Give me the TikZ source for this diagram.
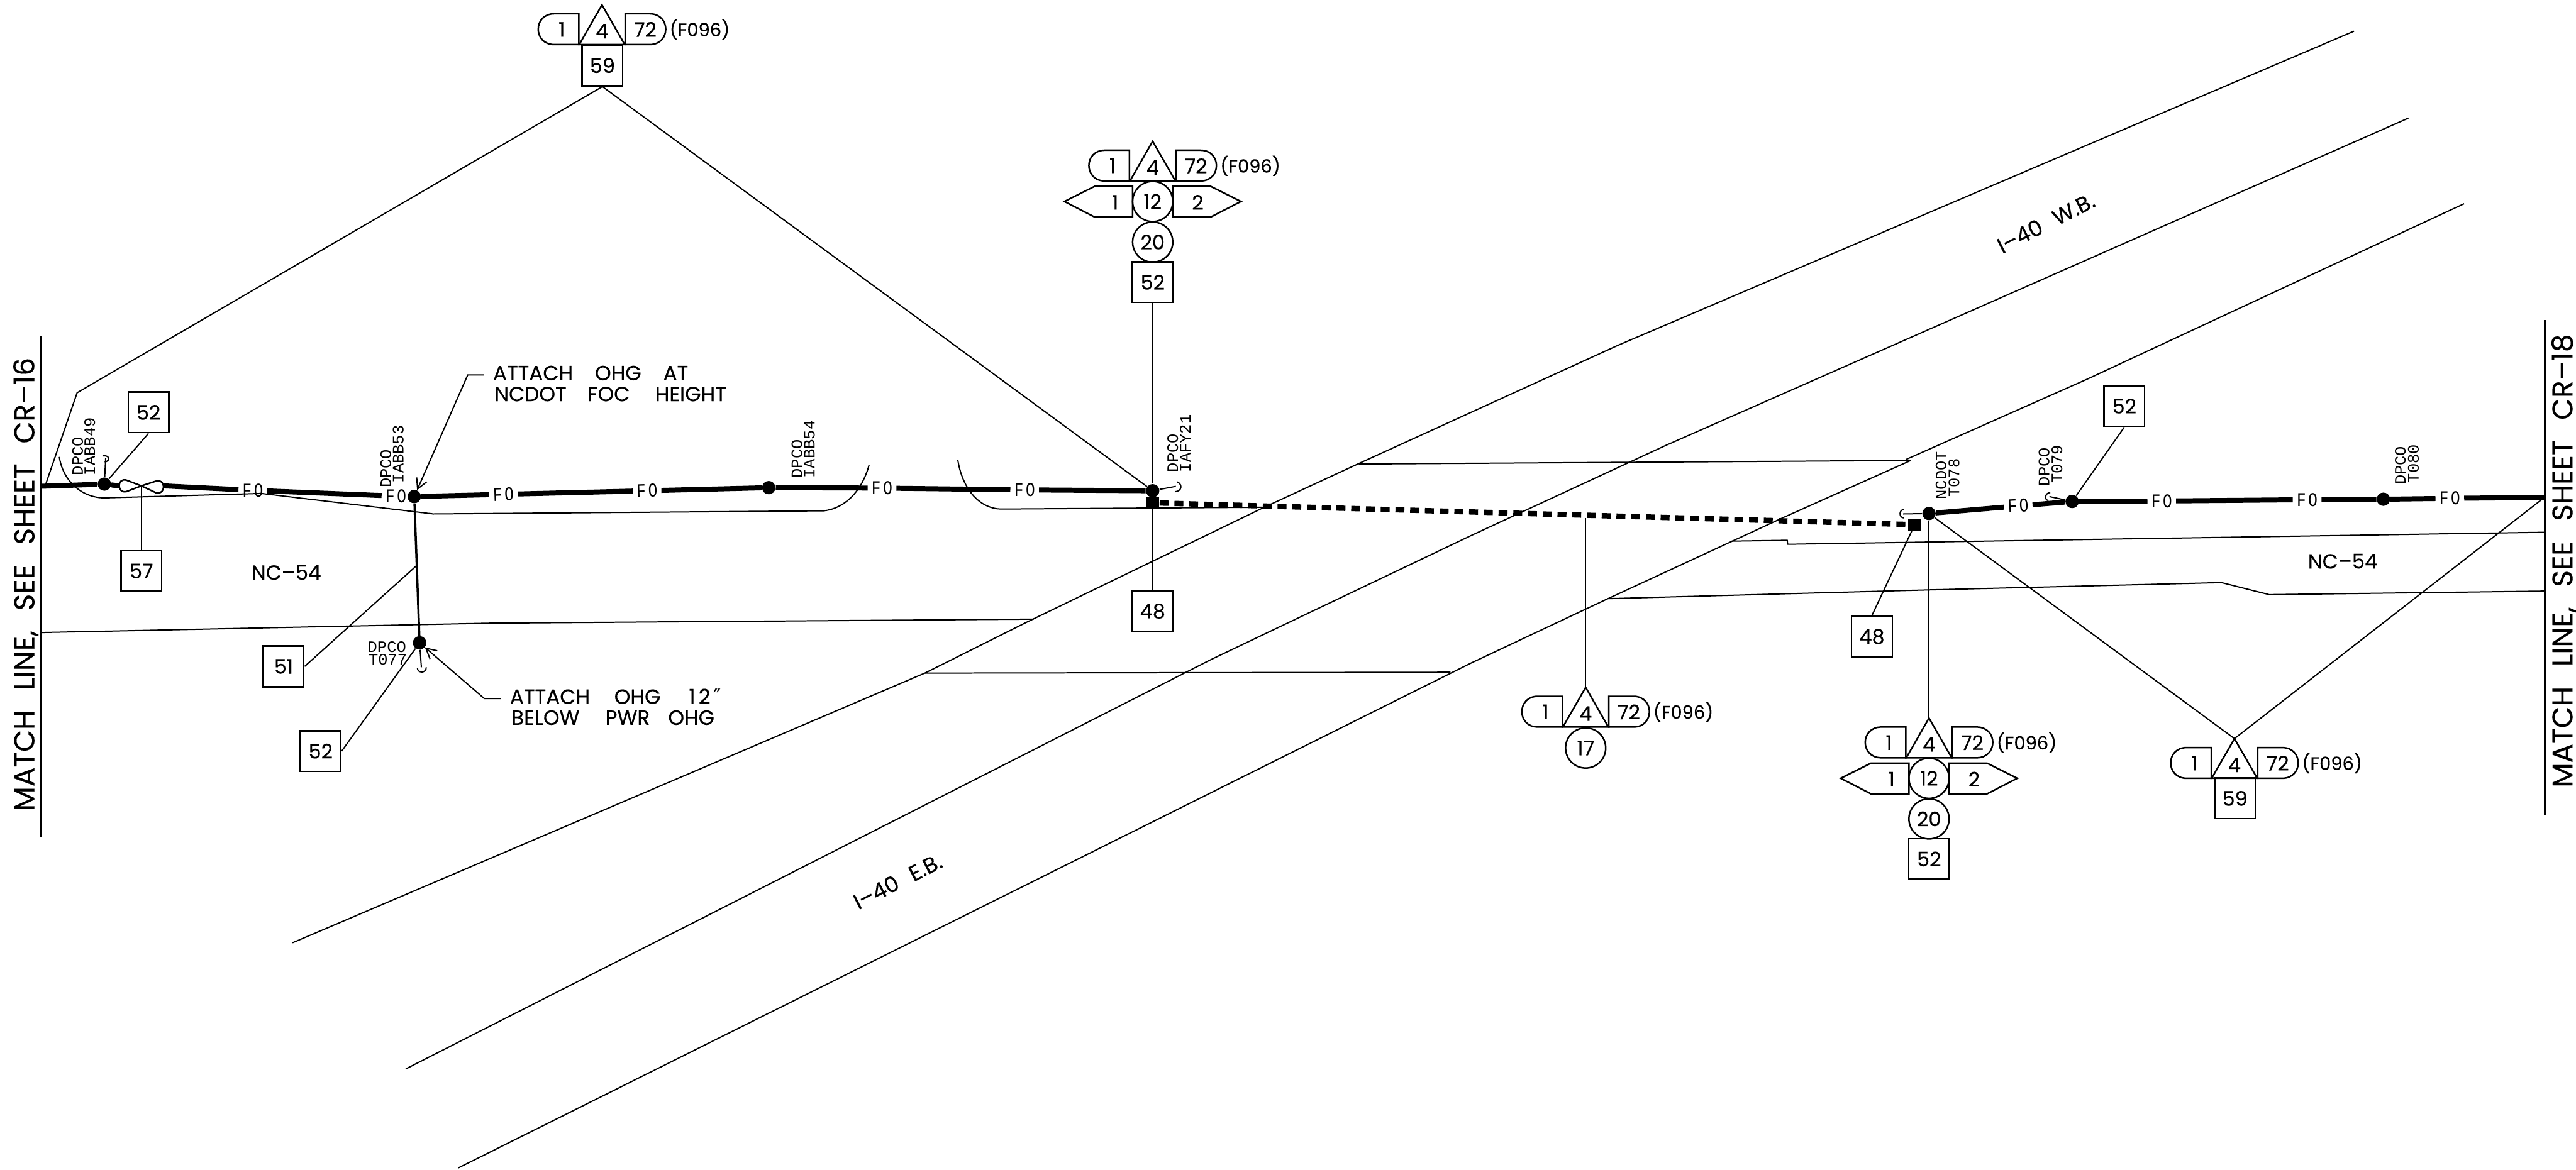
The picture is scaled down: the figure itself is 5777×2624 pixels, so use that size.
\documentclass[tikz,border=0pt]{standalone}
\usepackage{fontspec}
\usetikzlibrary{arrows.meta}
\newfontfamily\popf[FakeBold=0.25]{Poppins}
\newfontfamily\cadf{Liberation Mono}
\newfontfamily\cadn[FakeStretch=0.78]{Liberation Mono}
\newfontfamily\djvf{DejaVu Sans}
\newcommand{\wgap}[1]{\hspace{#1pt}}
\tikzset{
  x=0.01cm,y=-0.01cm,
  road/.style={line width=0.8pt},
  leader/.style={line width=0.8pt},
  fiber/.style={line width=3.2pt},
  drop/.style={line width=1.4pt},
  dashfiber/.style={line width=3.4pt,dash pattern=on 5.7pt off 3.7pt},
  matchrule/.style={line width=1.7pt},
  shapeln/.style={line width=1pt,line join=miter},
  num/.style={font=\popf\fontsize{12.8}{14}\selectfont,inner sep=0pt},
  boxn/.style={num,draw,line width=1pt,minimum size=0.91cm,shape=rectangle},
  circn/.style={num,draw,line width=1pt,minimum size=0.9cm,shape=circle},
  pole/.style={circle,fill=black,minimum size=0.3cm,inner sep=0pt},
  sqmark/.style={rectangle,fill=black,minimum width=0.3cm,minimum height=0.26cm,inner sep=0pt},
  fotext/.style={font=\cadn\fontsize{12.5}{14}\selectfont,minimum width=0.63cm,inner sep=0pt},
  cadlabel/.style={font=\cadf\fontsize{10.2}{12}\selectfont,inner sep=0pt,rotate=90,anchor=base west},
  cadflat/.style={font=\cadf\fontsize{10.2}{12}\selectfont,inner sep=0pt,anchor=base west},
  matchtext/.style={font=\popf\fontsize{18.2}{20}\selectfont,inner sep=0pt,rotate=90,anchor=base},
  roadname/.style={font=\popf\fontsize{13}{15}\selectfont,inner sep=0pt},
  rotname/.style={font=\popf\fontsize{14}{16}\selectfont,inner sep=0pt,rotate=27},
  note/.style={font=\popf\fontsize{13.1}{15}\selectfont,inner sep=0pt,anchor=base west},
  barb/.style={-{Straight Barb[length=6.5pt,width=7pt]},line width=0.8pt},
  signhead/.pic={
    \coordinate (-apex) at (0,0);
    \draw[shapeln] (-52,20) -- (-107,20) .. controls (-155,20) and (-155,89) .. (-107,89) -- (-52,89) -- cycle;
    \draw[shapeln] (-51,89) -- (0,0) -- (51,89) -- cycle;
    \draw[shapeln] (52,20) -- (107,20) .. controls (155,20) and (155,89) .. (107,89) -- (52,89) -- cycle;
    \node[num] (-n1) at (-90,55) {1};
    \node[num] (-n4) at (0,59) {4};
    \node[num] (-n72) at (97,55) {72};
    \node[num,font=\popf\fontsize{11.6}{14}\selectfont] (-cab) at (219,55) {(F096)};
  },
  signext/.pic={
    \draw[shapeln] (-45,101) -- (-130,101) -- (-198,135) -- (-130,170) -- (-45,170) -- cycle;
    \draw[shapeln] (45,101) -- (130,101) -- (198,135) -- (130,170) -- (45,170) -- cycle;
    \node[num] (-l) at (-84,137) {1};
    \node[num] (-r) at (101,137) {2};
    \node[circn] (-c12) at (0,135) {12};
    \node[circn] (-c20) at (0,226) {20};
    \node[boxn] (-b52) at (0,316) {52};
  }
}
\begin{document}
\begin{tikzpicture}
\useasboundingbox (0,0) rectangle (5777,2624);

% roads
\draw[road] (5279,70) -- (3630,774) -- (3047,1040) -- (2831,1140) -- (2300,1397) -- (2074,1510) -- (656,2115);
\draw[road] (5401,265) -- (3734,1000) -- (3300,1201) -- (2715,1480) -- (910,2398);
\draw[road] (5526,457) -- (4682,850) -- (4274,1031);
\draw[road] (4285,1033) -- (3995,1163) -- (3606,1343) -- (3300,1487) -- (1028,2620);
\draw[road] (3047,1041) -- (4284,1033);
\draw[road] (2074,1510) -- (3253,1508);
\draw[road] (93,1419) -- (1098,1398) -- (2318,1389);
\draw[road] (3883,1214) -- (4008,1212) -- (4009,1221) -- (4700,1210) -- (5706,1194);
\draw[road] (3606,1343) -- (4300,1324) -- (4982,1307) -- (5089,1334) -- (5706,1326);
\draw[road] (133,1025) .. controls (140,1075) and (180,1117) .. (235,1117) -- (586,1107) -- (972,1153) -- (1847,1146) .. controls (1900,1140) and (1935,1095) .. (1949,1043);
\draw[road] (2148,1032) .. controls (2158,1095) and (2195,1142) .. (2247,1142) -- (2831,1138);

% match lines
\coordinate (mlTopL) at (92,755);
\coordinate (mlBotL) at (92,1877);
\coordinate (mlTopR) at (5708,718);
\coordinate (mlBotR) at (5708,1828);
\coordinate (mlL) at (92,1091);
\coordinate (mlR) at (5706,1116);
\draw[matchrule] (mlTopL) -- (mlBotL);
\draw[matchrule] (mlTopR) -- (mlBotR);
\node[matchtext] (matchL) at (77,1311) {MATCH\wgap{12.7}LINE,\wgap{12.7}SEE\wgap{12.7}SHEET\wgap{12.7}CR–16};
\node[matchtext] (matchR) at (5769,1258) {MATCH\wgap{12.7}LINE,\wgap{12.7}SEE\wgap{12.7}SHEET\wgap{12.7}CR–18};

% poles
\node[pole] (pA) at (234,1086) {};
\node[pole] (pB) at (929,1114) {};
\node[pole] (pC) at (941,1442) {};
\node[pole] (pD) at (1724,1094) {};
\node[pole] (pE) at (2585,1101) {};
\node[pole] (pF) at (4326,1152) {};
\node[pole] (pG) at (4647,1125) {};
\node[pole] (pH) at (5345,1120) {};
\node[sqmark] (sqA) at (2585,1128) {};
\node[sqmark] (sqB) at (4294,1177) {};

% FO
\node[fotext] (foA) at (567,1100) {F\hspace{1.5pt}O};
\node[fotext] (foB) at (888,1113) {F\hspace{1.5pt}O};
\node[fotext,rotate=2] (foC) at (1129,1109) {F\hspace{1.5pt}O};
\node[fotext,rotate=2] (foD) at (1451,1101) {F\hspace{1.5pt}O};
\node[fotext] (foE) at (1978,1095) {F\hspace{1.5pt}O};
\node[fotext] (foF) at (2298,1099) {F\hspace{1.5pt}O};
\node[fotext,rotate=3] (foG) at (4526,1135) {F\hspace{1.5pt}O};
\node[fotext] (foH) at (4848,1124) {F\hspace{1.5pt}O};
\node[fotext] (foI) at (5174,1121) {F\hspace{1.5pt}O};
\node[fotext] (foJ) at (5494,1118) {F\hspace{1.5pt}O};

% bow-tie splice
\node[inner sep=0pt,minimum width=0.98cm,minimum height=0.27cm] (bow) at (317,1090) {};

% fibre run
\draw[fiber] (mlL) -- (pA) -- (bow.west);
\draw[fiber] (bow.east) -- (foA) -- (foB);
\draw[fiber] (pB) -- (foC) -- (foD) -- (pD) -- (foE) -- (foF) -- (pE);
\draw[dashfiber] (sqA) -- (sqB);
\draw[fiber] (pF) -- (foG) -- (pG) -- (foH) -- (foI) -- (pH) -- (foJ) -- (mlR);
\draw[drop] (pB) -- (pC);

% boxes
\node[boxn] (b52a) at (333,925) {52};
\node[boxn] (b57) at (317,1281) {57};
\node[boxn] (b51) at (636,1495) {51};
\node[boxn] (b52b) at (719,1685) {52};
\node[boxn] (b48a) at (2585,1371) {48};
\node[boxn] (b48b) at (4198,1428) {48};
\node[boxn] (b52c) at (4764,911) {52};

% sign groups
\pic (sT) at (1350,11) {signhead};
\node[boxn] (b59a) at (1351,147) {59};
\pic (sE) at (2585,317) {signhead};
\pic (sEx) at (2585,317) {signext};
\pic (sM) at (3556,1542) {signhead};
\node[circn] (c17) at (3556,1678) {17};
\pic (sF) at (4326,1611) {signhead};
\pic (sFx) at (4326,1611) {signext};
\pic (sR) at (5011,1657) {signhead};
\node[boxn] (b59b) at (5012,1791) {59};

% leaders
\coordinate (bendL) at (173,881);
\coordinate (tieL) at (102,1088);
\draw[leader] (b59a.south) -- (bendL) -- (tieL);
\draw[leader] (b59a.south) -- (pE);
\draw[leader] (b52a.south) -- (pA);
\draw[leader] (b57.north) -- (bow.center);
\coordinate (tap51) at (933,1270);
\draw[leader] (b51.east) -- (tap51);
\draw[leader] (b52b.east) -- (pC);
\draw[leader] (sEx-b52.south) -- (pE);
\draw[leader] (sqA) -- (b48a.north);
\draw[leader] (pE) -- (sqA);
\coordinate (tapM) at (3556,1162);
\draw[leader] (tapM) -- (sM-apex);
\draw[leader] (pF) -- (sF-apex);
\draw[leader] (pF) -- (sR-apex);
\draw[leader] (mlR) -- (sR-apex);
\draw[leader] (b48b.north) -- (sqB);
\draw[leader] (b52c.south) -- (pG);

% bow-tie glyph
\draw[shapeln,fill=white] (bow.center) -- (283,1077) .. controls (262,1072) and (262,1107) .. (283,1103) -- (bow.center) -- (351,1079) .. controls (372,1074) and (372,1110) .. (351,1106) -- cycle;

% hooks
\coordinate (hkA) at (237,1028);
\coordinate (hkC) at (945,1497);
\coordinate (hkE) at (2637,1091);
\coordinate (hkF) at (4268,1153);
\coordinate (hkG) at (4596,1114);
\draw[leader] (pA) -- (hkA);
\draw[road] (230,1023) .. controls (244,1020) and (250,1032) .. (235,1037);
\draw[leader] (pC) -- (hkC);
\draw[road] (936,1498) .. controls (936,1511) and (956,1511) .. (956,1497);
\draw[leader] (pE) -- (hkE);
\draw[road] (2640,1081) .. controls (2653,1087) and (2650,1102) .. (2636,1103);
\draw[leader] (pF) -- (hkF);
\draw[road] (4270,1143) .. controls (4258,1143) and (4258,1162) .. (4270,1162);
\draw[leader] (pG) -- (hkG);
\draw[road] (4598,1105) .. controls (4586,1105) and (4584,1122) .. (4594,1123);

% notes and arrows
\node[note] (noteA1) at (1105,853) {ATTACH\wgap{14}OHG\wgap{14}AT};
\node[note] (noteA2) at (1108,900) {NCDOT\wgap{13.4}FOC\wgap{16.2}HEIGHT};
\coordinate (noteAend) at (1085,841);
\coordinate (noteAbend) at (1049,841);
\draw[barb] (noteAend) -- (noteAbend) -- (pB);
\node[note] (noteB1) at (1143,1579) {ATTACH\wgap{15.5}OHG\wgap{18}1\hspace{2pt}2\hspace{2pt}{\djvf ″}};
\node[note] (noteB2) at (1146,1626) {BELOW\wgap{16.5}PWR\wgap{11.7}OHG};
\coordinate (noteBend) at (1123,1567);
\coordinate (noteBbend) at (1086,1567);
\draw[barb] (noteBend) -- (noteBbend) -- (pC);

% road names
\node[roadname] (ncL) at (642,1284) {NC–54};
\node[roadname] (ncR) at (5254,1259) {NC–54};
\node[rotname] (ibW) at (4588,500) {I–40\wgap{9}W.B.};
\node[rotname] (ibE) at (2013,1977) {I–40\wgap{9}E.B.};

% pole labels
\node[cadlabel] (lA1) at (186,1067) {DPCO};
\node[cadlabel] (lA2) at (213,1067) {IABB49};
\node[cadlabel] (lB1) at (877,1095) {DPCO};
\node[cadlabel] (lB2) at (905,1084) {IABB53};
\node[cadlabel] (lD1) at (1799,1073) {DPCO};
\node[cadlabel] (lD2) at (1827,1073) {IABB54};
\node[cadlabel] (lE1) at (2642,1060) {DPCO};
\node[cadlabel] (lE2) at (2670,1060) {IAFY21};
\node[cadlabel] (lF1) at (4365,1121) {NCDOT};
\node[cadlabel] (lF2) at (4394,1116) {T078};
\node[cadlabel] (lG1) at (4596,1091) {DPCO};
\node[cadlabel] (lG2) at (4625,1085) {T079};
\node[cadlabel] (lH1) at (5395,1088) {DPCO};
\node[cadlabel] (lH2) at (5424,1084) {T080};
\node[cadflat] (lC1) at (824,1463) {DPCO};
\node[cadflat] (lC2) at (826,1491) {T077};
\end{tikzpicture}
\end{document}
